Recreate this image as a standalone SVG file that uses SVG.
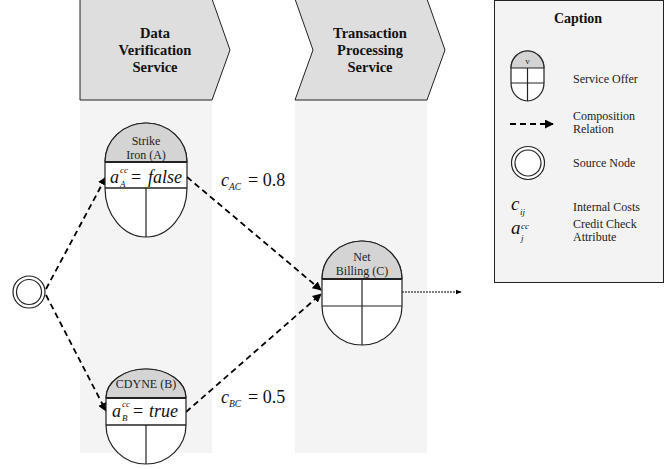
<svg xmlns="http://www.w3.org/2000/svg" width="666" height="469" viewBox="0 0 666 469">
<defs>
<style>
.lane{fill:#f4f4f4;stroke:none}
.chev{fill:#dedede;stroke:#222;stroke-width:1}
.hd{font-family:"Liberation Serif",serif;font-weight:bold;font-size:14.5px;fill:#111;text-anchor:middle}
.lbl{font-family:"Liberation Serif",serif;font-size:12px;fill:#222;text-anchor:middle}
.leg{font-family:"Liberation Serif",serif;font-size:12px;fill:#222}
.m{font-family:"Liberation Serif",serif;font-style:italic;fill:#111}
.r{font-family:"Liberation Serif",serif;fill:#111}
.body{fill:#fff;stroke:#222;stroke-width:1.2}
.top{fill:#d4d4d4;stroke:none}
.ln{stroke:#222;stroke-width:1.2;fill:none}
.dash{stroke:#000;stroke-width:1.8;stroke-dasharray:6,4;fill:none}
.dot{stroke:#000;stroke-width:1.2;stroke-dasharray:2,1;fill:none}
</style>
<marker id="ah" viewBox="0 0 10 10" refX="9" refY="5" markerWidth="5" markerHeight="5" orient="auto" markerUnits="strokeWidth">
<path d="M0,0 L10,5 L0,10 Z" fill="#000"/>
</marker>
<marker id="ah2" viewBox="0 0 10 10" refX="9" refY="5" markerWidth="5" markerHeight="5" orient="auto" markerUnits="strokeWidth">
<path d="M0,1 L10,5 L0,9 Z" fill="#000"/>
</marker>
</defs>

<g id="lane1">
<rect class="lane" x="80" y="100" width="132" height="353"/>
<polygon class="chev" points="80,-1 212,-1 230,50 212,100 80,100"/>
<text class="hd" x="155" y="38">Data</text>
<text class="hd" x="155" y="55">Verification</text>
<text class="hd" x="155" y="72">Service</text>
</g>

<g id="lane2">
<rect class="lane" x="295" y="100" width="132" height="353"/>
<polygon class="chev" points="295,-1 427,-1 445,50 427,100 295,100 313,50"/>
<text class="hd" x="370" y="38">Transaction</text>
<text class="hd" x="370" y="55">Processing</text>
<text class="hd" x="370" y="72">Service</text>
</g>

<g id="caption">
<rect x="494.5" y="0.5" width="169" height="282" fill="#f3f3f3" stroke="#222" stroke-width="1"/>
<text class="hd" x="578" y="23" style="font-size:14px">Caption</text>
<g id="legend-offer">
<path class="body" d="M511,68 A16.5,17 0 0 1 544,68 L544,83 A16.5,18 0 0 1 511,83 Z"/>
<path class="top" d="M511,68 A16.5,17 0 0 1 544,68 Z"/>
<path class="ln" d="M511,68 A16.5,17 0 0 1 544,68"/>
<line class="ln" x1="511" y1="68" x2="544" y2="68"/>
<line class="ln" x1="511" y1="83" x2="544" y2="83"/>
<line class="ln" x1="527.5" y1="68" x2="527.5" y2="101"/>
<text class="lbl" x="527.5" y="64" style="font-size:9px">v</text>
</g>
<text class="leg" x="573" y="83">Service Offer</text>
<line class="dash" x1="510" y1="124" x2="553" y2="124" marker-end="url(#ah)"/>
<text class="leg" x="573" y="120">Composition</text>
<text class="leg" x="573" y="133">Relation</text>
<circle cx="528" cy="163" r="16.5" fill="#fff" stroke="#222" stroke-width="1.2"/>
<circle cx="528" cy="163" r="13" fill="#fff" stroke="#222" stroke-width="1.2"/>
<text class="leg" x="573" y="167">Source Node</text>
<text class="m" x="511" y="210" style="font-size:19px">c</text>
<text class="m" x="520" y="215" style="font-size:9px">ij</text>
<text class="leg" x="573" y="211">Internal Costs</text>
<text class="m" x="511" y="234" style="font-size:19px">a</text>
<text class="m" x="521" y="229" style="font-size:9px">cc</text>
<text class="m" x="521" y="241" style="font-size:9px">j</text>
<text class="leg" x="573" y="228">Credit Check</text>
<text class="leg" x="573" y="241">Attribute</text>
</g>

<g id="connectors">
<line class="dash" x1="46" y1="289" x2="106" y2="177" marker-end="url(#ah)"/>
<line class="dash" x1="46" y1="295" x2="106" y2="411" marker-end="url(#ah)"/>
<line class="dash" x1="187" y1="177" x2="321" y2="290" marker-end="url(#ah)"/>
<line class="dash" x1="186" y1="412" x2="321" y2="294" marker-end="url(#ah)"/>
<line class="dot" x1="402" y1="292" x2="461" y2="292" marker-end="url(#ah2)"/>
</g>

<g id="source">
<circle cx="29" cy="292" r="16" fill="#fff" stroke="#222" stroke-width="1.2"/>
<circle cx="29" cy="292" r="12.5" fill="#fff" stroke="#222" stroke-width="1.2"/>
</g>

<g id="nodeA">
<path class="body" d="M105,162 A41,39 0 0 1 187,162 L187,188 A41,49 0 0 1 105,188 Z"/>
<path class="top" d="M105,162 A41,39 0 0 1 187,162 Z"/>
<path class="ln" d="M105,162 A41,39 0 0 1 187,162"/>
<line class="ln" x1="105" y1="162" x2="187" y2="162" style="stroke-width:1.8"/>
<line class="ln" x1="105" y1="188" x2="187" y2="188" style="stroke-width:1.6"/>
<line class="ln" x1="146" y1="188" x2="146" y2="237"/>
<text class="lbl" x="146" y="145">Strike</text>
<text class="lbl" x="146" y="159">Iron (A)</text>
<text class="m" x="110" y="183" style="font-size:18px">a</text>
<text class="m" x="120" y="173" style="font-size:9px">cc</text>
<text class="m" x="120" y="187" style="font-size:9px">A</text>
<text class="r" x="131" y="183" style="font-size:18px">=</text>
<text class="m" x="148" y="183" style="font-size:18px">false</text>
</g>

<g id="nodeB">
<path class="body" d="M106,398 A40,29 0 0 1 186,398 L186,425 A40,39 0 0 1 106,425 Z"/>
<path class="top" d="M106,398 A40,29 0 0 1 186,398 Z"/>
<path class="ln" d="M106,398 A40,29 0 0 1 186,398"/>
<line class="ln" x1="106" y1="398" x2="186" y2="398" style="stroke-width:1.8"/>
<line class="ln" x1="106" y1="425" x2="186" y2="425" style="stroke-width:1.6"/>
<line class="ln" x1="146" y1="425" x2="146" y2="464"/>
<text class="lbl" x="146" y="388">CDYNE (B)</text>
<text class="m" x="112" y="417" style="font-size:18px">a</text>
<text class="m" x="122" y="407" style="font-size:9px">cc</text>
<text class="m" x="122" y="421" style="font-size:9px">B</text>
<text class="r" x="133" y="417" style="font-size:18px">=</text>
<text class="m" x="149" y="417" style="font-size:18px">true</text>
</g>

<g id="nodeC">
<path class="body" d="M322,279 A40,38 0 0 1 402,279 L402,306 A40,39 0 0 1 322,306 Z"/>
<path class="top" d="M322,279 A40,38 0 0 1 402,279 Z"/>
<path class="ln" d="M322,279 A40,38 0 0 1 402,279"/>
<line class="ln" x1="322" y1="279" x2="402" y2="279" style="stroke-width:1.8"/>
<line class="ln" x1="322" y1="306" x2="402" y2="306"/>
<line class="ln" x1="362" y1="279" x2="362" y2="345"/>
<text class="lbl" x="362" y="261">Net</text>
<text class="lbl" x="362" y="275">Billing (C)</text>
</g>

<g id="costs">
<text class="m" x="221" y="186" style="font-size:18px">c</text>
<text class="m" x="229" y="190" style="font-size:9.5px">AC</text>
<text class="r" x="248" y="186" style="font-size:18px">= 0.8</text>
<text class="m" x="221" y="403" style="font-size:18px">c</text>
<text class="m" x="229" y="407" style="font-size:9.5px">BC</text>
<text class="r" x="248" y="403" style="font-size:18px">= 0.5</text>
</g>
</svg>
